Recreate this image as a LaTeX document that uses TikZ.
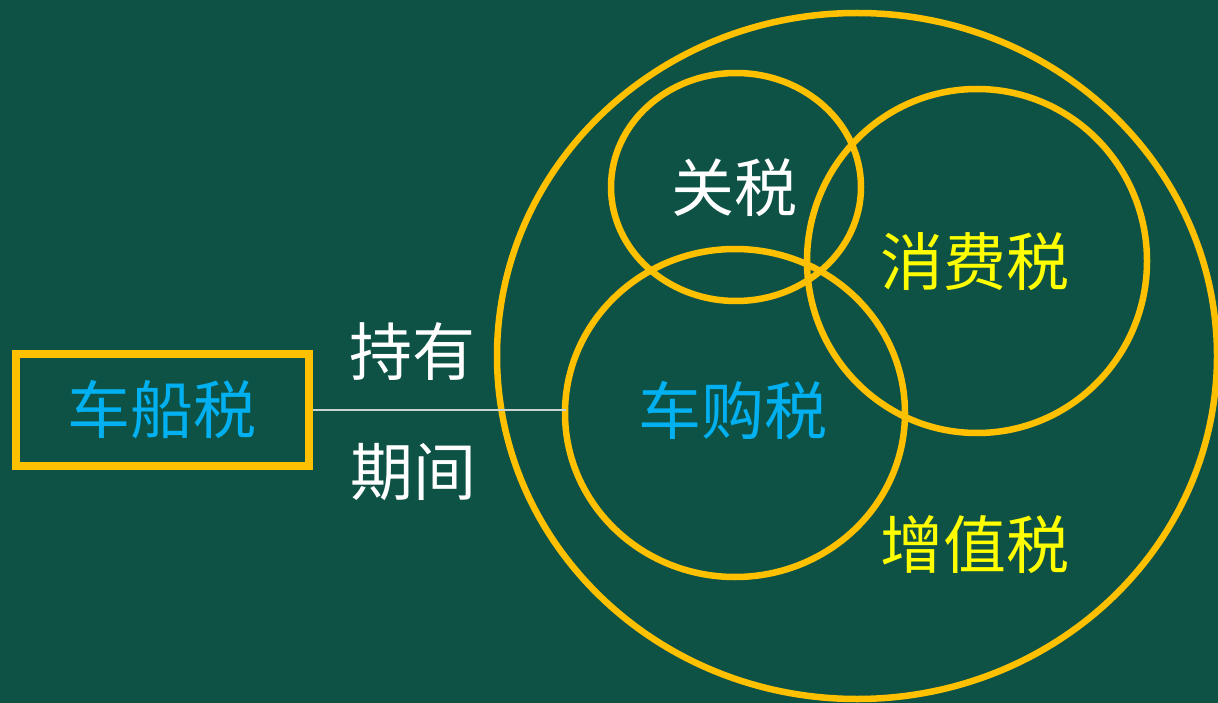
\documentclass[tikz,border=0pt]{standalone}
\usepackage{fontspec}
\setmainfont{Noto Sans CJK SC}
\definecolor{bg}{HTML}{0E5246}
\definecolor{ring}{HTML}{FFC000}
\definecolor{tblue}{HTML}{00B0F0}
\definecolor{tyellow}{HTML}{FFFF00}
\definecolor{lgray}{HTML}{C8D4D0}
\begin{document}
\begin{tikzpicture}[x=1pt,y=-1pt,
  ring/.style={draw=ring,line width=6.5pt},
  lbl/.style={font=\fontsize{63}{63}\selectfont,inner sep=0pt,anchor=center}]
\fill[bg] (0,0) rectangle (1218,703);
\useasboundingbox (0,0) rectangle (1218,703);
% outer circle
\draw[ring] (857,356) ellipse [x radius=360, y radius=343];
% inner circles
\draw[ring] (736,187) ellipse [x radius=125, y radius=114];
\draw[ring] (977,261) ellipse [x radius=170, y radius=172];
\draw[ring] (735,413) ellipse [x radius=170, y radius=164];
% box
\node[draw=ring,line width=8pt,minimum width=293pt,minimum height=112pt,inner sep=0pt] (ccs) at (162.5,410) {};
\node[lbl,text=tblue] at (162,410) {车船税};
\coordinate (end) at (566,410);
\draw[lgray,line width=1.5pt] (ccs.east) -- (end);
\node[lbl,text=white] (cy) at (412,352) {持有};
\node[lbl,text=white] (qj) at (413,472) {期间};
\node[lbl,text=white] (gs) at (734,188) {关税};
\node[lbl,text=tyellow] (xfs) at (975,262) {消费税};
\node[lbl,text=tblue] (cgs) at (733,410) {车购税};
\node[lbl,text=tyellow] (zzs) at (975,545) {增值税};
\end{tikzpicture}
\end{document}
